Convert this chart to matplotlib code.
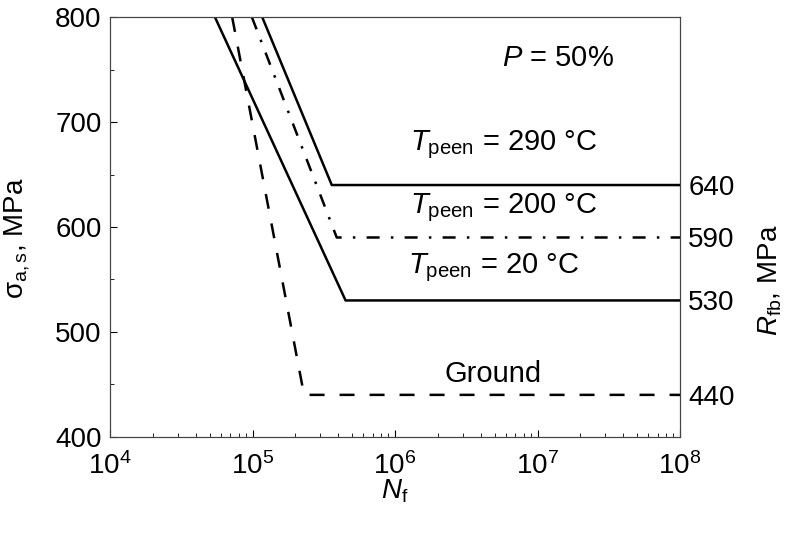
import matplotlib.pyplot as plt
import numpy as np
from matplotlib.ticker import LogLocator, MultipleLocator, NullFormatter

plt.rcParams['font.family'] = ['Liberation Sans', 'DejaVu Sans']
plt.rcParams['mathtext.fontset'] = 'custom'
plt.rcParams['mathtext.rm'] = 'Liberation Sans'
plt.rcParams['mathtext.it'] = 'Liberation Sans:italic'

# (N_f, stress) corner points of each S-N curve
ground_n = [7.2e4, 2.3e5, 1e8]
ground_s = [800, 440, 440]
t20_n = [5.45e4, 4.5e5, 1e8]
t20_s = [800, 530, 530]
t200_n = [9.9e4, 3.9e5, 1e8]
t200_s = [800, 590, 590]
t290_n = [1.17e5, 3.6e5, 1e8]
t290_s = [800, 640, 640]

right_ticks = [440, 530, 590, 640]

_FS = 20
_TXT_FS = 21

fig = plt.figure(figsize=(8, 5.36), dpi=100)
ax = fig.add_axes([0.1375, 0.185, 0.7125, 0.783])

ax.plot(ground_n, ground_s, color='black', lw=1.8, dashes=(6, 6))
ax.plot(t20_n, t20_s, color='black', lw=1.8)
ax.plot(t200_n, t200_s, color='black', lw=1.8, dashes=(5.2, 4.5, 1, 4.5))
ax.plot(t290_n, t290_s, color='black', lw=1.8)

ax.set_xscale('log')
ax.set_xlim(1e4, 1e8)
ax.set_ylim(400, 800)
ax.xaxis.set_major_locator(LogLocator(base=10, numticks=10))
ax.xaxis.set_minor_locator(LogLocator(base=10, subs=np.arange(2, 10), numticks=50))
ax.xaxis.set_minor_formatter(NullFormatter())
ax.yaxis.set_major_locator(MultipleLocator(100))
ax.yaxis.set_minor_locator(MultipleLocator(50))
ax.tick_params(which='both', direction='in', top=False, right=False,
               labelsize=_FS, pad=6)
ax.tick_params(axis='x', which='both', pad=11)
ax.tick_params(which='major', length=5)
ax.tick_params(which='minor', length=3)
for s in ax.spines.values():
    s.set_color('#444444')

ax.set_xlabel(r'$N_\mathrm{f}$', fontsize=_FS)
ax.xaxis.set_label_coords(0.5, -0.098)
ax.set_ylabel(r'σ$_\mathrm{a,s}$, MPa', fontsize=_FS)
ax.yaxis.set_label_coords(-0.137, 0.474)

ax2 = ax.twinx()
ax2.set_ylim(400, 800)
ax2.set_yticks(right_ticks)
ax2.tick_params(direction='in', length=4, labelsize=_FS, pad=6)
ax2.set_ylabel(r'$R_\mathrm{fb}$, MPa', fontsize=_FS)
ax2.yaxis.set_label_coords(1.135, 0.374)
for s in ax2.spines.values():
    s.set_color('#444444')

ax.text(5.6e6, 753, r'$P$ = 50%', fontsize=_TXT_FS, ha='left', va='baseline')
ax.text(1.27e6, 673, r'$T_\mathrm{peen}$ = 290 °C', fontsize=_TXT_FS, ha='left', va='baseline')
ax.text(1.27e6, 613, r'$T_\mathrm{peen}$ = 200 °C', fontsize=_TXT_FS, ha='left', va='baseline')
ax.text(1.24e6, 556, r'$T_\mathrm{peen}$ = 20 °C', fontsize=_TXT_FS, ha='left', va='baseline')
ax.text(2.24e6, 452, 'Ground', fontsize=_TXT_FS, ha='left', va='baseline')

fig.savefig('out.png', dpi=100)
